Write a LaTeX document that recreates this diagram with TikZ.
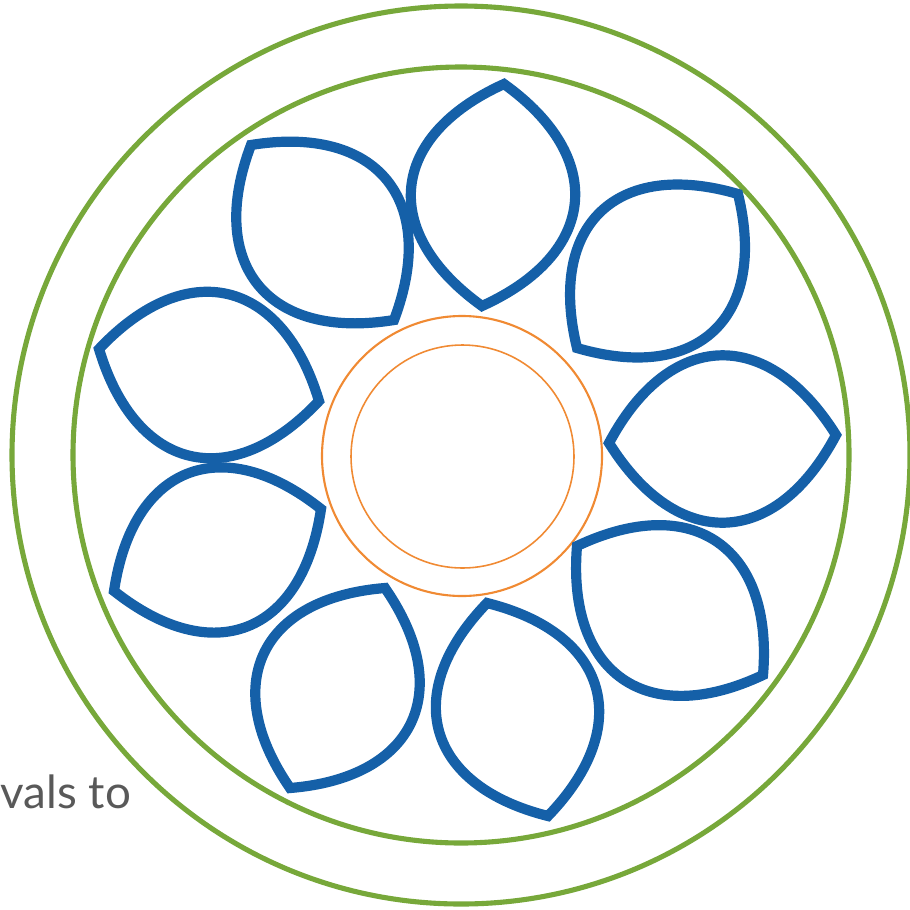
\documentclass[tikz,border=0pt]{standalone}
\usepackage{fontspec}
\newfontfamily\notefont{Lato}
\definecolor{ringgreen}{HTML}{77A83A}
\definecolor{petalblue}{HTML}{1560A8}
\definecolor{huborange}{HTML}{F08A33}
\definecolor{notegray}{HTML}{595959}
\tikzset{
  ring/.style={draw=ringgreen, line width=1.45pt},
  hub/.style={draw=huborange, line width=0.6pt},
  petal/.style={draw=petalblue, line width=2.9pt, line join=miter},
  note/.style={font=\notefont\fontsize{13}{15}\selectfont, text=notegray, inner sep=0pt}
}
\begin{document}
\begin{tikzpicture}[x=0.01cm, y=-0.01cm]
  \useasboundingbox (0,0) rectangle (910,909);
  % rings
  \draw[ring] (461,455) circle (449);
  \draw[ring] (461,455) circle (388);
  % hub
  \draw[hub] (462,456) circle (140);
  \draw[hub, line width=0.45pt] (462.5,456.5) circle (111.5);
  % petals, tip to tip
  \foreach \ax/\ay/\bx/\by in {504/84/482/306, 738/194/577/348, 836/435/609/443,
      763/675/577/546, 548/816/487/603, 290/788/385/588, 114/591/321/509,
      99/349/319/401, 251/145/394/320} {
    \draw[petal] (\ax,\ay) to[bend left=60, looseness=1.45] (\bx,\by)
      to[bend left=60, looseness=1.45] cycle;
  }
  % cut-off note
  \node[note, anchor=base west] (vals) at (0,808) {vals to};
\end{tikzpicture}
\end{document}
